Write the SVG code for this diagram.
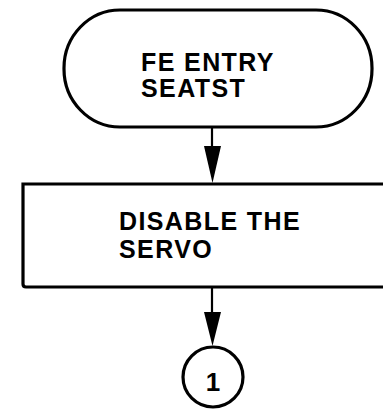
<svg xmlns="http://www.w3.org/2000/svg" width="383" height="411" viewBox="0 0 383 411">
<defs>
<style>
.shape{fill:#fff;stroke:#000;stroke-width:3.2}
.lbl{font-family:"Liberation Sans",Arial,sans-serif;font-weight:bold;font-size:25px;letter-spacing:1.4px;fill:#000}
.num{font-family:"Liberation Sans",Arial,sans-serif;font-weight:bold;font-size:26px;fill:#000;text-anchor:middle}
.conn{stroke:#000;stroke-width:2.2;fill:none}
.head{fill:#000}
</style>
</defs>
<rect width="383" height="411" fill="#fff"/>
<g id="start">
<rect class="shape" x="64" y="10" width="308" height="117" rx="56" ry="58"/>
<text class="lbl" x="141" y="71">FE ENTRY</text>
<text class="lbl" x="141" y="97">SEATST</text>
</g>
<g id="disable">
<path class="shape" d="M392 184 L23 184 L23 284 Q23 287 26 287 L392 287"/>
<text class="lbl" x="119" y="230">DISABLE THE</text>
<text class="lbl" x="119" y="258">SERVO</text>
</g>
<g id="connector1">
<circle class="shape" cx="213" cy="377" r="30"/>
<text class="num" x="213" y="391">1</text>
</g>
<g id="connectors">
<line class="conn" x1="212" y1="128" x2="212" y2="150"/>
<polygon class="head" points="204,146 221,146 212.5,183"/>
<line class="conn" x1="212" y1="288" x2="212" y2="316"/>
<polygon class="head" points="204,312 221,312 212.5,346"/>
</g>
</svg>
